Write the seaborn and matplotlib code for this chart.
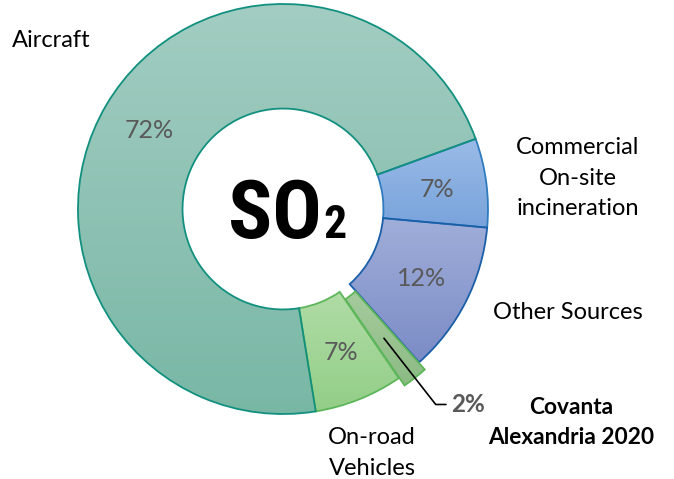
import numpy as np
import matplotlib
matplotlib.use("Agg")
import matplotlib.pyplot as plt
import seaborn as sns
from matplotlib.colors import LinearSegmentedColormap

sns.set_theme(style="white")
plt.rcParams['font.family'] = ['Lato', 'DejaVu Sans']

# SO2 emission shares (%), clockwise from the right
sources = ["Commercial\nOn-site\nincineration", "Other Sources",
           "Covanta\nAlexandria 2020", "On-road\nVehicles", "Aircraft"]
shares = [7, 12, 2, 7, 72]
fill_top = ["#9abbe7", "#a0aed9", "#a6cb9d", "#b0dca6", "#a3cdc2"]
fill_bottom = ["#78a3db", "#7b8cc6", "#8cbb84", "#93ce88", "#79b7a5"]
edge_colors = ["#2f7bc0", "#1a5fa8", "#5db65a", "#5db65a", "#11907f"]
explode = [0, 0, 0.045, 0, 0]

fig = plt.figure(figsize=(6.74, 4.79), dpi=100)
ax = fig.add_axes([0, 0, 1, 1])

wedges, texts, autotexts = ax.pie(
    shares, explode=explode, startangle=20, counterclock=False, radius=1,
    wedgeprops=dict(width=0.51, linewidth=1.3),
    autopct=lambda p: '' if p < 3 else f'{p:.0f}%', pctdistance=0.755,
    textprops=dict(color='#595959', fontsize=18))

# gradient fill clipped to each wedge
grad = np.linspace(0, 1, 256).reshape(-1, 1)
for w, top, bot, ec in zip(wedges, fill_top, fill_bottom, edge_colors):
    w.set_edgecolor(ec)
    w.set_facecolor('none')
    bb = w.get_path().get_extents()
    cmap = LinearSegmentedColormap.from_list('g', [bot, top])
    im = ax.imshow(grad, cmap=cmap, origin='lower', aspect='auto',
                   extent=[bb.x0, bb.x1, bb.y0, bb.y1], zorder=0.5)
    im.set_clip_path(w)

# category labels
lab = dict(ha='center', va='center', fontsize=17, color='black', linespacing=1.55)
ax.text(-1.132, 0.824, sources[4], **lab)
ax.text(1.439, 0.151, sources[0], **lab)
ax.text(1.390, -0.507, sources[1], **lab)
ax.text(0.434, -1.190, sources[3], **lab)
lab['fontsize'] = 16.3
ax.text(1.405, -1.040, sources[2], fontweight='bold', **lab)

# leader line for the small Covanta slice
edges = 20 - 360 * np.cumsum([0] + shares) / 100
mid = np.deg2rad((edges[2] + edges[3]) / 2)
r0, r1 = 0.80, 1.21
x1, y1 = r1 * np.cos(mid), r1 * np.sin(mid)
ax.plot([r0 * np.cos(mid), x1, x1 + 0.05], [r0 * np.sin(mid), y1, y1],
        color='black', lw=1.2, zorder=3)
ax.text(x1 + 0.075, y1, f'{shares[2]}%', ha='left', va='center', fontsize=17.5,
        fontweight='bold', color='#595959')

# centre title
so_font = ['Roboto Condensed', 'Roboto', 'DejaVu Sans']
ax.text(0.19, -0.141, 'SO', ha='right', va='baseline', fontsize=59,
        fontweight='bold', family=so_font, color='black')
ax.text(0.195, -0.141, '2', ha='left', va='baseline', fontsize=33,
        fontweight='bold', family=so_font, color='black')

ax.set_xlim(-1.380, 1.907)
ax.set_ylim(-1.317, 1.0195)
ax.set_aspect('equal')
ax.axis('off')

fig.savefig('out.png', dpi=100)
